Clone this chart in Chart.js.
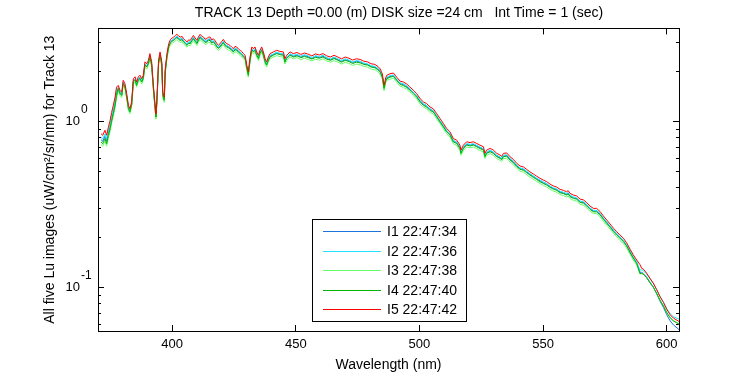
<!DOCTYPE html>
<html lang="en">

<head>
  <meta charset="UTF-8" />
  <title>Track 13 Lu</title>
  <script src="https://cdn.jsdelivr.net/npm/chart.js@4.4.0/dist/chart.umd.min.js"></script>
  <style>
    * {
      margin: 0;
      padding: 0;
    }

    body {
      background: #ffffff;
    }
  </style>
</head>

<body>
  <canvas id="myChart" width="750" height="375"></canvas>
  <script>
    // wavelength (nm), shared by all five images
    const wavelength = [
      371.2, 371.9, 372.8, 373.5, 374.2, 374.9, 375.5, 376.2, 376.9, 377.5,
      378.2, 378.9, 379.6, 380.2, 380.9, 381.6, 382.3, 382.9, 383.6, 384.3,
      385.0, 385.6, 386.3, 387.0, 387.7, 388.3, 389.0, 389.7, 390.4, 391.0,
      391.7, 392.4, 393.1, 393.4, 393.8, 394.5, 395.1, 395.8, 396.2, 396.8,
      397.2, 397.9, 398.6, 399.3, 400.0, 400.6, 401.3, 401.9, 402.6, 403.3,
      404.0, 404.6, 405.3, 406.0, 406.6, 407.3, 408.0, 408.6, 409.3, 410.0,
      410.6, 411.3, 412.0, 412.7, 413.3, 414.0, 414.7, 415.4, 416.0, 416.7,
      417.4, 418.1, 418.7, 419.4, 420.0, 420.7, 421.4, 422.1, 422.7, 423.4,
      424.1, 424.8, 425.4, 426.1, 426.8, 427.5, 428.1, 428.8, 429.5, 430.2,
      430.8, 431.5, 432.2, 432.9, 433.5, 434.2, 434.9, 435.5, 436.2, 436.9,
      437.6, 438.2, 438.9, 439.6, 440.9, 442.3, 443.6, 445.0, 445.6, 446.3,
      447.7, 449.0, 450.5, 452.0, 453.5, 455.0, 456.5, 458.0, 459.5, 461.0,
      462.5, 464.0, 465.5, 467.0, 468.5, 470.0, 471.5, 473.0, 474.5, 476.0,
      477.5, 479.0, 480.5, 482.0, 483.2, 484.1, 485.0, 485.7, 486.4, 486.8,
      488.1, 489.5, 490.8, 492.2, 493.5, 494.9, 496.2, 497.6, 498.9, 500.3,
      501.6, 502.9, 504.3, 505.6, 507.0, 508.3, 509.7, 511.0, 512.4, 513.7,
      515.1, 516.4, 516.8, 517.8, 519.1, 520.5, 521.8, 523.2, 524.5, 525.9,
      526.5, 527.2, 528.6, 529.9, 531.3, 532.6, 533.3, 534.0, 535.3, 536.7,
      538.0, 539.4, 540.7, 542.1, 543.4, 544.7, 546.1, 547.4, 548.8, 550.1,
      551.5, 552.8, 554.2, 555.5, 556.9, 558.2, 559.5, 560.2, 560.9, 562.3,
      563.6, 565.0, 566.3, 567.7, 569.0, 570.4, 571.7, 573.1, 574.4, 575.8,
      577.1, 578.5, 579.8, 581.1, 582.5, 583.8, 585.2, 586.5, 587.9, 589.2,
      589.9, 590.5, 591.9, 593.3, 594.6, 596.0, 597.3, 598.7, 600.0, 601.4,
      602.7, 605.0
    ];

    const lu1 = [
      0.782, 0.764, 0.819, 0.764, 0.856, 0.938, 1.05, 1.16, 1.30, 1.49,
      1.60, 1.50, 1.46, 1.72, 1.64, 1.43, 1.22, 1.16, 1.27, 1.76,
      1.80, 1.68, 1.80, 1.84, 1.76, 1.84, 2.22, 2.16, 2.27, 2.49,
      2.22, 1.60, 1.22, 1.08, 1.30, 2.27, 2.55, 2.22, 1.46, 1.36,
      2.02, 2.49, 2.86, 3.03, 3.09, 3.13, 3.20, 3.25, 3.18, 3.13,
      3.17, 3.06, 2.99, 2.92, 3.01, 2.99, 3.11, 3.20, 3.09, 2.99,
      3.14, 3.25, 3.17, 3.13, 3.04, 3.06, 3.14, 3.13, 3.01, 3.06,
      2.97, 2.86, 2.80, 2.86, 2.94, 3.03, 2.91, 2.86, 2.83, 2.79,
      2.72, 2.66, 2.75, 2.73, 2.65, 2.61, 2.57, 2.49, 2.43, 2.11,
      1.93, 2.37, 2.73, 2.66, 2.73, 2.55, 2.43, 2.61, 2.73, 2.55,
      2.32, 2.22, 2.37, 2.49, 2.55, 2.61, 2.57, 2.55, 2.32, 2.43,
      2.55, 2.49, 2.53, 2.46, 2.51, 2.47, 2.41, 2.48, 2.44, 2.49,
      2.41, 2.37, 2.43, 2.37, 2.32, 2.37, 2.34, 2.28, 2.32, 2.30,
      2.24, 2.22, 2.16, 2.14, 2.08, 2.02, 1.88, 1.60, 1.79, 1.84,
      1.88, 1.90, 1.79, 1.70, 1.68, 1.63, 1.56, 1.50, 1.43, 1.33,
      1.27, 1.24, 1.19, 1.16, 1.08, 1.01, 0.944, 0.880, 0.841, 0.766,
      0.749, 0.699, 0.652, 0.699, 0.732, 0.724, 0.732, 0.715, 0.699, 0.683,
      0.623, 0.652, 0.668, 0.652, 0.623, 0.609, 0.598, 0.623, 0.627, 0.594,
      0.573, 0.542, 0.523, 0.516, 0.499, 0.483, 0.468, 0.455, 0.441, 0.430,
      0.421, 0.407, 0.397, 0.391, 0.378, 0.373, 0.366, 0.372, 0.358, 0.349,
      0.345, 0.330, 0.327, 0.315, 0.300, 0.290, 0.290, 0.278, 0.262, 0.247,
      0.234, 0.221, 0.210, 0.201, 0.192, 0.180, 0.165, 0.152, 0.142, 0.124,
      0.124, 0.122, 0.116, 0.108, 0.101, 0.0918, 0.0833, 0.0762, 0.0690, 0.0632,
      0.0598, 0.0560
    ];

    const lu2 = [
      0.808, 0.789, 0.846, 0.789, 0.884, 0.969, 1.08, 1.20, 1.34, 1.54,
      1.62, 1.51, 1.47, 1.74, 1.66, 1.44, 1.23, 1.17, 1.29, 1.77,
      1.82, 1.70, 1.82, 1.86, 1.77, 1.86, 2.24, 2.18, 2.29, 2.52,
      2.24, 1.62, 1.23, 1.09, 1.32, 2.29, 2.57, 2.24, 1.47, 1.37,
      2.04, 2.52, 2.89, 3.06, 3.12, 3.16, 3.24, 3.29, 3.22, 3.16,
      3.20, 3.09, 3.02, 2.95, 3.04, 3.02, 3.14, 3.24, 3.12, 3.02,
      3.17, 3.29, 3.20, 3.16, 3.07, 3.09, 3.17, 3.16, 3.04, 3.09,
      3.00, 2.89, 2.83, 2.89, 2.97, 3.06, 2.94, 2.89, 2.86, 2.82,
      2.75, 2.69, 2.78, 2.76, 2.68, 2.63, 2.59, 2.52, 2.46, 2.14,
      1.95, 2.40, 2.76, 2.69, 2.76, 2.57, 2.46, 2.63, 2.76, 2.57,
      2.34, 2.24, 2.40, 2.52, 2.57, 2.63, 2.59, 2.57, 2.34, 2.46,
      2.57, 2.52, 2.55, 2.49, 2.54, 2.50, 2.44, 2.51, 2.47, 2.52,
      2.44, 2.40, 2.46, 2.40, 2.34, 2.40, 2.36, 2.30, 2.34, 2.32,
      2.26, 2.24, 2.18, 2.16, 2.11, 2.04, 1.90, 1.62, 1.80, 1.86,
      1.90, 1.92, 1.81, 1.72, 1.70, 1.65, 1.58, 1.51, 1.44, 1.35,
      1.29, 1.26, 1.20, 1.17, 1.09, 1.02, 0.954, 0.889, 0.849, 0.774,
      0.757, 0.706, 0.659, 0.706, 0.740, 0.731, 0.740, 0.722, 0.706, 0.690,
      0.630, 0.659, 0.675, 0.659, 0.630, 0.615, 0.605, 0.630, 0.634, 0.601,
      0.579, 0.548, 0.528, 0.522, 0.504, 0.488, 0.473, 0.459, 0.446, 0.435,
      0.425, 0.411, 0.401, 0.395, 0.382, 0.377, 0.370, 0.375, 0.362, 0.353,
      0.349, 0.333, 0.331, 0.318, 0.303, 0.293, 0.293, 0.281, 0.264, 0.250,
      0.236, 0.223, 0.213, 0.203, 0.194, 0.182, 0.167, 0.154, 0.143, 0.128,
      0.128, 0.127, 0.121, 0.113, 0.106, 0.0975, 0.0890, 0.0822, 0.0752, 0.0698,
      0.0670, 0.0648
    ];

    const lu3 = [
      0.731, 0.714, 0.765, 0.714, 0.800, 0.877, 0.980, 1.08, 1.21, 1.39,
      1.54, 1.44, 1.40, 1.66, 1.58, 1.38, 1.17, 1.12, 1.23, 1.69,
      1.74, 1.62, 1.74, 1.78, 1.69, 1.78, 2.14, 2.08, 2.19, 2.40,
      2.14, 1.54, 1.17, 1.04, 1.26, 2.19, 2.46, 2.14, 1.40, 1.31,
      1.94, 2.40, 2.75, 2.92, 2.98, 3.01, 3.09, 3.13, 3.07, 3.01,
      3.05, 2.95, 2.88, 2.82, 2.90, 2.88, 2.99, 3.09, 2.98, 2.88,
      3.02, 3.13, 3.05, 3.01, 2.93, 2.95, 3.02, 3.01, 2.90, 2.95,
      2.86, 2.75, 2.70, 2.75, 2.84, 2.92, 2.81, 2.75, 2.72, 2.69,
      2.62, 2.57, 2.65, 2.63, 2.56, 2.51, 2.47, 2.40, 2.34, 2.04,
      1.86, 2.29, 2.63, 2.57, 2.63, 2.46, 2.34, 2.51, 2.63, 2.46,
      2.23, 2.14, 2.29, 2.40, 2.46, 2.51, 2.47, 2.46, 2.23, 2.34,
      2.46, 2.40, 2.44, 2.37, 2.42, 2.38, 2.33, 2.39, 2.35, 2.40,
      2.33, 2.29, 2.34, 2.29, 2.23, 2.29, 2.25, 2.19, 2.23, 2.21,
      2.16, 2.14, 2.08, 2.06, 2.01, 1.94, 1.81, 1.54, 1.72, 1.78,
      1.81, 1.83, 1.73, 1.64, 1.62, 1.57, 1.51, 1.44, 1.38, 1.28,
      1.23, 1.20, 1.14, 1.12, 1.04, 0.977, 0.910, 0.848, 0.810, 0.738,
      0.722, 0.673, 0.629, 0.673, 0.706, 0.698, 0.706, 0.689, 0.673, 0.658,
      0.601, 0.629, 0.644, 0.629, 0.601, 0.587, 0.577, 0.601, 0.605, 0.573,
      0.552, 0.523, 0.504, 0.498, 0.481, 0.465, 0.451, 0.438, 0.425, 0.415,
      0.405, 0.392, 0.382, 0.377, 0.365, 0.360, 0.352, 0.358, 0.345, 0.337,
      0.333, 0.318, 0.315, 0.303, 0.289, 0.280, 0.280, 0.268, 0.252, 0.238,
      0.226, 0.213, 0.203, 0.193, 0.185, 0.174, 0.159, 0.147, 0.137, 0.121,
      0.122, 0.121, 0.115, 0.107, 0.101, 0.0925, 0.0843, 0.0780, 0.0713, 0.0662,
      0.0634, 0.0605
    ];

    const lu4 = [
      0.757, 0.739, 0.792, 0.739, 0.828, 0.908, 1.01, 1.12, 1.25, 1.44,
      1.59, 1.48, 1.44, 1.70, 1.62, 1.41, 1.20, 1.15, 1.26, 1.74,
      1.79, 1.66, 1.79, 1.82, 1.74, 1.82, 2.20, 2.14, 2.24, 2.46,
      2.20, 1.59, 1.20, 1.07, 1.29, 2.24, 2.52, 2.20, 1.44, 1.35,
      2.00, 2.46, 2.83, 3.00, 3.06, 3.09, 3.17, 3.22, 3.15, 3.09,
      3.13, 3.03, 2.96, 2.89, 2.98, 2.96, 3.08, 3.17, 3.06, 2.96,
      3.10, 3.22, 3.13, 3.09, 3.01, 3.03, 3.10, 3.09, 2.98, 3.03,
      2.94, 2.83, 2.77, 2.83, 2.91, 3.00, 2.88, 2.83, 2.80, 2.76,
      2.69, 2.64, 2.72, 2.70, 2.63, 2.58, 2.54, 2.46, 2.41, 2.09,
      1.91, 2.35, 2.70, 2.64, 2.70, 2.52, 2.41, 2.58, 2.70, 2.52,
      2.29, 2.20, 2.35, 2.46, 2.52, 2.58, 2.54, 2.52, 2.29, 2.41,
      2.52, 2.46, 2.50, 2.44, 2.48, 2.44, 2.39, 2.45, 2.42, 2.46,
      2.39, 2.35, 2.41, 2.35, 2.29, 2.35, 2.31, 2.25, 2.29, 2.27,
      2.22, 2.20, 2.14, 2.12, 2.06, 2.00, 1.86, 1.59, 1.77, 1.82,
      1.86, 1.88, 1.78, 1.68, 1.66, 1.61, 1.55, 1.48, 1.41, 1.32,
      1.26, 1.23, 1.17, 1.15, 1.07, 1.00, 0.934, 0.871, 0.832, 0.758,
      0.741, 0.691, 0.646, 0.691, 0.725, 0.716, 0.725, 0.708, 0.691, 0.676,
      0.617, 0.646, 0.661, 0.646, 0.617, 0.603, 0.592, 0.617, 0.621, 0.588,
      0.567, 0.537, 0.518, 0.511, 0.494, 0.478, 0.463, 0.450, 0.436, 0.426,
      0.416, 0.403, 0.393, 0.387, 0.374, 0.370, 0.362, 0.368, 0.354, 0.346,
      0.342, 0.327, 0.324, 0.311, 0.297, 0.287, 0.287, 0.275, 0.259, 0.244,
      0.232, 0.218, 0.208, 0.199, 0.190, 0.179, 0.163, 0.151, 0.140, 0.122,
      0.122, 0.121, 0.115, 0.107, 0.101, 0.0925, 0.0843, 0.0778, 0.0711, 0.0660,
      0.0632, 0.0605
    ];

    const lu5 = [
      0.85, 0.83, 0.89, 0.83, 0.93, 1.02, 1.14, 1.26, 1.41, 1.62,
      1.66, 1.55, 1.51, 1.78, 1.70, 1.48, 1.26, 1.20, 1.32, 1.82,
      1.87, 1.74, 1.87, 1.91, 1.82, 1.91, 2.30, 2.24, 2.35, 2.58,
      2.30, 1.66, 1.26, 1.12, 1.35, 2.35, 2.64, 2.30, 1.51, 1.41,
      2.09, 2.58, 2.96, 3.14, 3.20, 3.24, 3.32, 3.37, 3.30, 3.24,
      3.28, 3.17, 3.10, 3.03, 3.12, 3.10, 3.22, 3.32, 3.20, 3.10,
      3.25, 3.37, 3.28, 3.24, 3.15, 3.17, 3.25, 3.24, 3.12, 3.17,
      3.08, 2.96, 2.90, 2.96, 3.05, 3.14, 3.02, 2.96, 2.93, 2.89,
      2.82, 2.76, 2.85, 2.83, 2.75, 2.70, 2.66, 2.58, 2.52, 2.19,
      2.00, 2.46, 2.83, 2.76, 2.83, 2.64, 2.52, 2.70, 2.83, 2.64,
      2.40, 2.30, 2.46, 2.58, 2.64, 2.70, 2.66, 2.64, 2.40, 2.52,
      2.64, 2.58, 2.62, 2.55, 2.60, 2.56, 2.50, 2.57, 2.53, 2.58,
      2.50, 2.46, 2.52, 2.46, 2.40, 2.46, 2.42, 2.36, 2.40, 2.38,
      2.32, 2.30, 2.24, 2.22, 2.16, 2.09, 1.95, 1.66, 1.85, 1.91,
      1.95, 1.97, 1.86, 1.76, 1.74, 1.69, 1.62, 1.55, 1.48, 1.38,
      1.32, 1.29, 1.23, 1.20, 1.12, 1.05, 0.978, 0.912, 0.871, 0.794,
      0.776, 0.724, 0.676, 0.724, 0.759, 0.750, 0.759, 0.741, 0.724, 0.708,
      0.646, 0.676, 0.692, 0.676, 0.646, 0.631, 0.620, 0.646, 0.650, 0.616,
      0.594, 0.562, 0.542, 0.535, 0.517, 0.500, 0.485, 0.471, 0.457, 0.446,
      0.436, 0.422, 0.411, 0.405, 0.392, 0.387, 0.379, 0.385, 0.371, 0.362,
      0.358, 0.342, 0.339, 0.326, 0.311, 0.301, 0.301, 0.288, 0.271, 0.256,
      0.2425, 0.2285, 0.218, 0.208, 0.199, 0.187, 0.171, 0.158, 0.147, 0.138,
      0.131, 0.130, 0.1226, 0.114, 0.1067, 0.0973, 0.0886, 0.0816, 0.0744, 0.0688,
      0.0657, 0.0627
    ];

    const seriesLabels = ["I1 22:47:34", "I2 22:47:36", "I3 22:47:38", "I4 22:47:40", "I5 22:47:42"];
    const seriesValues = [lu1, lu2, lu3, lu4, lu5];
    const seriesColors = ["#1c74e0", "#22e4ff", "#66ff66", "#00b400", "#ff0000"];

    const xTicks = [400, 450, 500, 550, 600];
    const yTicks = [0.06, 0.07, 0.08, 0.09, 0.1, 0.2, 0.3, 0.4, 0.5, 0.6, 0.7, 0.8, 0.9, 1, 2, 3];
    const yMajorTicks = [0.1, 1];

    const X_MIN = 370, X_MAX = 605;
    const Y_MIN = 0.0549, Y_MAX = 3.66;

    const tickFontCss = "13px 'Liberation Sans', Arial, sans-serif";
    const tickFont = { family: "'Liberation Sans', Arial, sans-serif", size: 13, lineHeight: 1.2 };
    const textFont = { family: "'Liberation Sans', Arial, sans-serif", size: 14, weight: "normal", lineHeight: 1.2 };

    function setTicks(values) {
      return function (scale) {
        scale.ticks = values.map(function (v) { return { value: v }; });
      };
    }
    function fixWidth(w) {
      return function (scale) { scale.width = w; };
    }
    function fixHeight(h) {
      return function (scale) { scale.height = h; };
    }

    // inward tick marks for the framed box (negative tick length)
    function tickAxis(type, position, ticks, len, extra) {
      const horizontal = position === "top" || position === "bottom";
      const axis = {
        type: type,
        position: position,
        min: horizontal ? X_MIN : Y_MIN,
        max: horizontal ? X_MAX : Y_MAX,
        afterBuildTicks: setTicks(ticks),
        grid: { display: true, drawOnChartArea: false, drawTicks: true, tickLength: len, tickColor: "#000", tickWidth: 1 },
        border: { display: false },
        ticks: { display: false },
        afterFit: horizontal ? fixHeight(0) : fixWidth(0)
      };
      return Object.assign(axis, extra || {});
    }

    const datasets = seriesLabels.map(function (label, i) {
      return {
        label: label,
        data: wavelength.map(function (w, j) { return { x: w, y: seriesValues[i][j] }; }),
        borderColor: seriesColors[i],
        backgroundColor: seriesColors[i],
        borderWidth: 1,
        pointRadius: 0,
        tension: 0,
        fill: false,
        order: seriesLabels.length - 1 - i
      };
    });

    // y tick labels as 10 with raised exponent
    const powerLabels = {
      id: "powerLabels",
      afterDraw(chart) {
        const ctx = chart.ctx;
        const s = chart.scales.y;
        ctx.save();
        ctx.fillStyle = "#000";
        ctx.textBaseline = "middle";
        yMajorTicks.forEach(function (v) {
          const py = s.getPixelForValue(v);
          ctx.font = tickFontCss;
          ctx.textAlign = "right";
          ctx.fillText("10", s.right - 18, py);
          ctx.font = "12px 'Liberation Sans', Arial, sans-serif";
          ctx.textAlign = "left";
          ctx.fillText(String(Math.round(Math.log10(v))), s.right - 17, py - 12);
        });
        ctx.restore();
      }
    };

    // boxed legend inside the plot, lower middle
    const boxLegend = {
      id: "boxLegend",
      afterDatasetsDraw(chart) {
        const ctx = chart.ctx;
        const bx = 312.5, by = 219.5, bw = 154, bh = 102;
        ctx.save();
        ctx.fillStyle = "#fff";
        ctx.fillRect(bx, by, bw, bh);
        ctx.strokeStyle = "#000";
        ctx.lineWidth = 1;
        ctx.strokeRect(bx, by, bw, bh);
        ctx.font = "14px 'Liberation Sans', Arial, sans-serif";
        ctx.textBaseline = "middle";
        ctx.textAlign = "left";
        chart.data.datasets.forEach(function (ds, i) {
          const ly = Math.round(231 + i * 19.5) + 0.5;
          ctx.strokeStyle = ds.borderColor;
          ctx.beginPath();
          ctx.moveTo(323, ly);
          ctx.lineTo(381, ly);
          ctx.stroke();
          ctx.fillStyle = "#000";
          ctx.fillText(ds.label, 387, ly + 0.5);
        });
        ctx.restore();
      }
    };

    const config = {
      type: "line",
      data: { datasets: datasets },
      options: {
        responsive: false,
        animation: false,
        parsing: true,
        layout: { padding: { left: 48, right: 0, top: 0, bottom: 0 } },
        scales: {
          x: {
            type: "linear",
            position: "bottom",
            min: X_MIN,
            max: X_MAX,
            afterBuildTicks: setTicks(xTicks),
            afterFit: fixHeight(44),
            grid: { display: true, drawOnChartArea: false, drawTicks: true, tickLength: -6, tickColor: "#000", tickWidth: 1 },
            border: { display: true, color: "#000", width: 1 },
            ticks: { font: tickFont, color: "#000", padding: 12, maxRotation: 0, autoSkip: false },
            title: { display: true, text: "Wavelength (nm)", font: textFont, color: "#000", padding: { top: 0, bottom: 1 } }
          },
          y: {
            type: "logarithmic",
            position: "left",
            weight: 1,
            min: Y_MIN,
            max: Y_MAX,
            afterBuildTicks: setTicks(yTicks),
            afterFit: fixWidth(50),
            grid: { display: true, drawOnChartArea: false, drawTicks: true, tickLength: -3, tickColor: "#000", tickWidth: 1 },
            border: { display: true, color: "#000", width: 1 },
            ticks: { display: false },
            title: { display: true, text: "All five Lu images (uW/cm\u00B2/sr/nm) for Track 13", font: textFont, color: "#000", padding: { top: -6, bottom: 0 } }
          },
          yMajor: tickAxis("logarithmic", "left", yMajorTicks, -6, { weight: 0 }),
          x2: tickAxis("linear", "top", xTicks, -6, { border: { display: true, color: "#000", width: 1 } }),
          y2: tickAxis("logarithmic", "right", yTicks, -3, { weight: 1, afterFit: fixWidth(71), border: { display: true, color: "#000", width: 1 } }),
          yMajor2: tickAxis("logarithmic", "right", yMajorTicks, -6, { weight: 0 })
        },
        plugins: {
          legend: { display: false },
          tooltip: { enabled: false },
          title: {
            display: true,
            text: "TRACK 13 Depth =0.00 (m) DISK size =24 cm   Int Time = 1 (sec)",
            font: textFont,
            color: "#000",
            padding: { top: 5, bottom: 6.6 }
          }
        }
      },
      plugins: [powerLabels, boxLegend]
    };

    const ctx = document.getElementById("myChart").getContext("2d");
    const myChart = new Chart(ctx, config);
  </script>
</body>

</html>
